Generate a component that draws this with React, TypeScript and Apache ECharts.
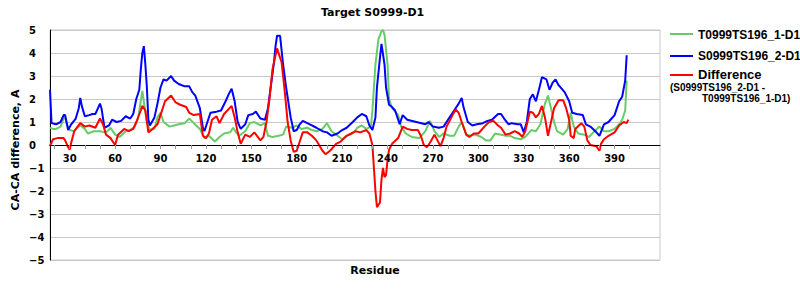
import React, { useEffect, useRef } from "react";
import * as echarts from "echarts";

const titleText = "Target S0999-D1";
const seriesNames = ["T0999TS196_1-D1", "S0999TS196_2-D1", "Difference"];
const xLabelValues = [30, 60, 90, 120, 150, 180, 210, 240, 270, 300, 330, 360, 390];
const xTickValues = [20, 30, 40, 50, 60, 70, 80, 90, 100, 110, 120, 130, 140, 150, 160, 170, 180, 190, 200, 210, 220, 230, 240, 250, 260, 270, 280, 290, 300, 310, 320, 330, 340, 350, 360, 370, 380, 390, 400];

const greenResidues = [17, 19, 21, 24, 26, 27, 28, 30, 33, 35, 37, 40, 42, 46, 50, 53, 55, 57, 60, 63, 67, 70, 73, 75, 76, 78, 79, 81, 83, 86, 88, 90, 92, 96, 99, 102, 106, 109, 112, 116, 119, 122, 126, 129, 132, 136, 138, 140, 142, 146, 149, 152, 156, 159, 161, 164, 168, 171, 173, 177, 180, 183, 187, 190, 193, 197, 200, 203, 207, 210, 213, 217, 220, 223, 226, 229, 230, 232, 234, 236, 237, 238, 240, 241, 243, 247, 249, 252, 256, 261, 265, 268, 271, 274, 277, 281, 284, 287, 289, 292, 295, 298, 302, 305, 308, 311, 315, 318, 321, 324, 328, 331, 335, 338, 341, 344, 346, 348, 350, 352, 356, 359, 361, 363, 366, 370, 373, 376, 380, 383, 386, 390, 393, 395, 397, 398];
const greenValues = [0.75, 0.7, 0.7, 0.8, 1.15, 1.2, 0.9, 0.65, 0.6, 0.75, 0.85, 0.7, 0.5, 0.6, 0.6, 0.55, 0.6, 0.75, 0.45, 0.35, 0.6, 0.65, 0.8, 1.1, 1.5, 2.35, 1.9, 1.0, 0.65, 0.7, 1.2, 1.4, 1.0, 0.8, 0.85, 0.9, 0.95, 1.15, 0.95, 0.7, 0.3, 0.4, 0.15, 0.35, 0.5, 0.55, 0.75, 0.55, 0.4, 0.6, 0.95, 1.0, 0.85, 0.95, 0.4, 0.35, 0.4, 0.45, 0.8, 0.75, 0.85, 0.7, 0.75, 0.65, 0.6, 0.7, 0.95, 0.6, 0.4, 0.25, 0.4, 0.5, 0.75, 0.85, 0.7, 0.8, 1.5, 3.5, 4.6, 4.95, 5.0, 4.8, 3.5, 2.0, 1.6, 1.3, 0.8, 0.5, 0.35, 0.3, 0.6, 1.05, 0.6, 0.35, 0.5, 0.4, 0.4, 0.8, 1.0, 0.45, 0.4, 0.45, 0.35, 0.2, 0.2, 0.5, 0.45, 0.4, 0.4, 0.3, 0.25, 0.35, 0.65, 0.6, 0.9, 1.8, 2.15, 1.6, 1.0, 0.6, 0.45, 0.7, 1.4, 0.8, 0.5, 0.45, 0.35, 0.55, 0.8, 0.6, 0.6, 0.7, 0.9, 1.1, 1.5, 2.8];

const blueResidues = [17, 18, 21, 24, 26, 27, 29, 31, 34, 36, 37, 38, 40, 43, 45, 47, 49, 50, 51, 53, 56, 58, 61, 64, 67, 70, 72, 74, 76, 77, 78, 79, 80, 81, 82, 83, 86, 88, 90, 92, 94, 97, 99, 102, 106, 109, 111, 113, 116, 118, 119, 121, 123, 127, 130, 133, 135, 137, 139, 141, 143, 146, 148, 151, 153, 156, 159, 161, 163, 165, 166, 167, 169, 171, 173, 176, 178, 180, 182, 184, 187, 190, 193, 197, 200, 203, 207, 210, 213, 217, 220, 223, 226, 228, 230, 232, 233, 235, 236, 238, 239, 241, 243, 245, 248, 250, 253, 259, 265, 267, 270, 274, 277, 281, 284, 287, 289, 290, 293, 296, 299, 303, 306, 309, 313, 315, 317, 320, 322, 326, 328, 330, 332, 334, 336, 338, 340, 342, 345, 347, 349, 351, 353, 357, 360, 362, 365, 369, 371, 374, 378, 380, 383, 386, 390, 393, 395, 397, 398];
const blueValues = [2.4, 0.95, 0.9, 1.0, 1.3, 1.3, 0.65, 0.9, 1.15, 1.6, 2.05, 1.7, 1.25, 1.3, 1.35, 1.35, 1.65, 1.8, 1.6, 0.75, 0.85, 1.1, 1.0, 1.05, 1.25, 1.15, 1.35, 2.0, 2.4, 3.3, 4.0, 4.3, 3.5, 2.5, 1.1, 0.85, 1.2, 1.8, 2.5, 2.85, 2.8, 3.0, 2.8, 2.65, 2.55, 2.55, 2.3, 2.15, 1.6, 0.75, 0.6, 1.0, 1.4, 1.45, 1.5, 1.9, 2.2, 2.45, 1.9, 1.0, 0.7, 0.9, 1.3, 1.35, 1.45, 1.15, 1.1, 1.6, 2.6, 3.6, 4.3, 4.75, 4.75, 3.5, 2.5, 1.2, 0.6, 0.65, 0.9, 1.05, 0.95, 0.85, 0.75, 0.6, 0.55, 0.4, 0.5, 0.65, 0.75, 1.0, 1.2, 1.35, 1.25, 0.85, 0.65, 1.2, 2.5, 3.8, 4.4, 3.5, 2.5, 1.75, 1.65, 1.5, 0.9, 1.3, 1.1, 1.0, 0.9, 1.0, 0.8, 0.75, 0.8, 1.2, 1.5, 1.8, 2.05, 1.7, 1.0, 0.85, 0.9, 0.95, 1.05, 1.1, 1.35, 1.35, 1.15, 0.9, 0.95, 0.9, 0.9, 0.55, 1.0, 2.0, 2.2, 1.9, 2.4, 2.95, 2.85, 2.4, 2.7, 2.85, 2.6, 2.3, 1.9, 1.4, 1.35, 1.3, 0.9, 0.8, 0.55, 0.4, 0.9, 1.0, 1.3, 1.9, 2.1, 2.8, 3.9];

const redResidues = [17, 19, 22, 26, 27, 29, 30, 31, 33, 37, 40, 43, 47, 50, 52, 54, 57, 60, 62, 66, 69, 72, 74, 77, 78, 80, 82, 84, 88, 90, 93, 97, 100, 103, 107, 109, 112, 116, 118, 120, 122, 124, 127, 129, 132, 137, 139, 141, 143, 146, 149, 152, 156, 158, 160, 162, 164, 167, 170, 172, 174, 176, 178, 180, 182, 184, 187, 190, 193, 197, 199, 202, 206, 209, 213, 216, 219, 222, 226, 228, 230, 231, 232, 233, 235, 236, 237, 238, 239, 240, 241, 243, 247, 250, 253, 256, 260, 262, 264, 266, 268, 271, 273, 275, 277, 279, 283, 285, 287, 289, 292, 294, 297, 300, 304, 307, 310, 313, 315, 318, 321, 324, 327, 329, 331, 334, 336, 338, 340, 342, 344, 346, 348, 350, 353, 356, 358, 360, 361, 363, 364, 368, 370, 372, 374, 378, 380, 381, 383, 386, 390, 393, 396, 398, 399];
const redValues = [-0.05, 0.25, 0.3, 0.3, 0.2, -0.1, -0.2, 0.1, 0.6, 0.95, 0.8, 0.85, 0.75, 1.15, 0.9, 0.45, 0.3, 0.0, 0.45, 0.7, 0.6, 0.7, 1.0, 1.5, 1.7, 1.5, 0.55, 0.65, 0.9, 1.3, 1.9, 2.15, 1.85, 1.75, 1.65, 1.4, 1.3, 1.35, 0.4, 0.3, 0.5, 1.1, 1.25, 0.95, 1.35, 1.7, 1.2, 0.55, 0.05, 0.45, 0.35, 0.55, 0.2, 0.35, 1.0, 2.0, 3.3, 4.2, 3.6, 2.4, 1.0, 0.2, -0.3, -0.25, 0.15, 0.55, 0.55, 0.4, 0.2, -0.25, -0.4, -0.25, 0.05, 0.15, 0.4, 0.5, 0.6, 0.55, 0.65, 0.5, 0.0, -1.0, -2.0, -2.7, -2.5, -1.5, -1.0, -1.4, -1.3, -0.65, -0.2, 0.05, 0.3, 0.8, 0.7, 0.65, 0.65, 0.4, 0.0, -0.1, 0.1, 0.45, 0.2, -0.05, 0.3, 0.8, 1.3, 1.55, 1.4, 1.0, 0.45, 0.35, 0.5, 0.5, 0.8, 1.0, 1.05, 0.85, 0.75, 0.45, 0.5, 0.6, 0.5, 0.35, 0.6, 1.45, 1.4, 1.2, 1.35, 1.7, 1.2, 0.4, 1.0, 1.6, 1.95, 1.95, 1.6, 1.1, 0.4, 0.3, 0.7, 0.95, 0.8, 0.2, 0.0, -0.05, -0.25, 0.05, 0.25, 0.4, 0.55, 0.85, 1.0, 0.95, 1.1];

const GREEN = "#66cc66";
const BLUE = "#0000ff";
const RED = "#ff0000";

function zip(xs: number[], ys: number[]) {
  return xs.map((x, i) => [x, ys[i]]);
}

export default function App() {
  const ref = useRef<HTMLDivElement>(null);
  useEffect(() => {
    if (!ref.current) return;
    const chart = echarts.init(ref.current, null, { renderer: "svg" });
    const tickFont = { fontFamily: "DejaVu Sans", fontWeight: "bold" as const, fontSize: 10, color: "#000" };
    const legendFont = "Liberation Sans";
    const lineSeries = (name: string, color: string, data: number[][]) => ({
      name,
      type: "line",
      data,
      showSymbol: false,
      symbol: "none",
      lineStyle: { color, width: 2 },
      itemStyle: { color },
      z: name === "Difference" ? 4 : name === seriesNames[1] ? 3 : 2,
    });
    chart.setOption({
      animation: false,
      backgroundColor: "#fff",
      grid: { left: 50, right: 140, top: 30, bottom: 40, show: true, borderColor: "#c8c8c8", borderWidth: 1, backgroundColor: "transparent" },
      xAxis: {
        type: "value",
        min: 17,
        max: 420,
        position: "bottom",
        offset: -115,
        axisLine: { onZero: false, lineStyle: { color: "#000", width: 1 } },
        axisTick: { show: true, customValues: xTickValues, length: 4, inside: false, lineStyle: { color: "#999" } },
        axisLabel: { customValues: xLabelValues, margin: 8, ...tickFont },
        splitLine: { show: false },
        z: 5,
      },
      yAxis: {
        type: "value",
        min: -5,
        max: 5,
        interval: 1,
        axisLine: { show: true, onZero: false, lineStyle: { color: "#000", width: 1 } },
        axisTick: { show: false },
        axisLabel: { margin: 21, align: "left", ...tickFont, formatter: (v: number) => (v < 0 ? "\u2212" + Math.abs(v) : String(v)) },
        splitLine: { show: true, lineStyle: { color: "#c8c8c8", width: 1 } },
      },
      series: [
        lineSeries(seriesNames[0], GREEN, zip(greenResidues, greenValues)),
        lineSeries(seriesNames[1], BLUE, zip(blueResidues, blueValues)),
        lineSeries(seriesNames[2], RED, zip(redResidues, redValues)),
      ],
      graphic: [
        { type: "text", left: 321, top: 7, style: { text: titleText, fontFamily: "DejaVu Sans", fontWeight: "bold", fontSize: 11, fill: "#000" } },
        { type: "text", x: 15, y: 150, rotation: Math.PI / 2, style: { text: "CA-CA difference, A", fontFamily: "DejaVu Sans", fontWeight: "bold", fontSize: 11, fill: "#000", align: "center", verticalAlign: "middle" } },
        { type: "text", x: 375, y: 270, style: { text: "Residue", fontFamily: "DejaVu Sans", fontWeight: "bold", fontSize: 11, fill: "#000", align: "center", verticalAlign: "middle" } },
        { type: "line", shape: { x1: 670, y1: 34, x2: 693, y2: 34 }, style: { stroke: GREEN, lineWidth: 2 } },
        { type: "text", x: 698, y: 34.5, style: { text: seriesNames[0], fontFamily: legendFont, fontWeight: "bold", fontSize: 12, lineHeight: 12, fill: "#000", verticalAlign: "middle" } },
        { type: "line", shape: { x1: 670, y1: 56, x2: 693, y2: 56 }, style: { stroke: BLUE, lineWidth: 2 } },
        { type: "text", x: 698, y: 56, style: { text: seriesNames[1], fontFamily: legendFont, fontWeight: "bold", fontSize: 12, lineHeight: 12, fill: "#000", verticalAlign: "middle" } },
        { type: "line", shape: { x1: 670, y1: 75, x2: 693, y2: 75 }, style: { stroke: RED, lineWidth: 2 } },
        { type: "text", x: 698, y: 74.5, style: { text: seriesNames[2], fontFamily: legendFont, fontWeight: "bold", fontSize: 13, lineHeight: 12, fill: "#000", verticalAlign: "middle" } },
        { type: "text", x: 670, y: 87, style: { text: "(S0999TS196_2-D1 -", fontFamily: legendFont, fontWeight: "bold", fontSize: 10, lineHeight: 10, fill: "#000", verticalAlign: "middle" } },
        { type: "text", x: 702, y: 98.5, style: { text: "T0999TS196_1-D1)", fontFamily: legendFont, fontWeight: "bold", fontSize: 10, lineHeight: 10, fill: "#000", verticalAlign: "middle" } },
      ],
    });
    return () => chart.dispose();
  }, []);
  return <div ref={ref} style={{ width: 800, height: 300, position: "absolute", left: 0, top: 0 }} />;
}
